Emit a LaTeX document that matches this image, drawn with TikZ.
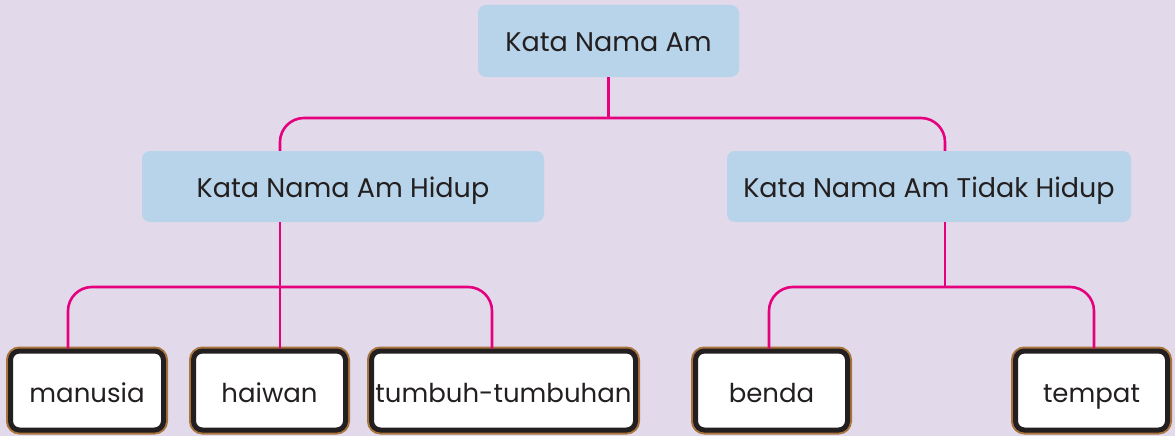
\documentclass[tikz,border=0pt]{standalone}
\usepackage{fontspec}
\setmainfont{Poppins}
\definecolor{bgcol}{HTML}{E2D9EB}
\definecolor{boxblue}{HTML}{B8D4EA}
\definecolor{linkpink}{HTML}{E5007E}
\definecolor{framegold}{HTML}{A8743C}
\definecolor{textgrey}{HTML}{231F20}
\tikzset{
  catbox/.style={fill=boxblue, rounded corners=8pt, inner sep=0pt,
    text=textgrey, font=\fontsize{27}{30}\selectfont,
    text height=21pt, text depth=0pt},
  leafbox/.style={fill=white, draw=textgrey, line width=5pt, rounded corners=9pt,
    inner sep=0pt, text=textgrey, font=\fontsize{26}{30}\selectfont,
    text height=24pt, text depth=0pt, minimum height=79pt,
    preaction={draw=framegold, line width=9pt}},
  link/.style={draw=linkpink, line width=2.6pt}
}
\begin{document}
\begin{tikzpicture}[x=1pt, y=-1pt]
  \fill[bgcol] (0,0) rectangle (1175,436);
  \useasboundingbox (0,0) rectangle (1175,436);
  % category boxes
  \node[catbox, minimum width=261pt, minimum height=72pt] (top) at (608.5,41) {Kata Nama Am};
  \node[catbox, minimum width=402pt, minimum height=71pt] (hidup) at (343,186.5) {Kata Nama Am Hidup};
  \node[catbox, minimum width=404pt, minimum height=71pt] (tidak) at (929,186.5) {Kata Nama Am Tidak Hidup};
  % leaf boxes
  \node[leafbox, minimum width=153pt] (manusia) at (87,390.5) {manusia};
  \node[leafbox, minimum width=152pt] (haiwan) at (269.5,390.5) {haiwan};
  \node[leafbox, minimum width=264pt] (tumbuh) at (503.5,390.5) {tumbuh-tumbuhan};
  \node[leafbox, minimum width=152pt] (benda) at (771.5,390.5) {benda};
  \node[leafbox, minimum width=152pt] (tempat) at (1091.5,390.5) {tempat};
  % connectors
  \coordinate (bar1) at (0,118);
  \coordinate (bar2) at (0,287);
  \draw[link] (top.south) -- (top.south |- bar1);
  \draw[link, rounded corners=24pt] ([xshift=-63pt]hidup.north) |- (top.south |- bar1) -| ([xshift=16pt]tidak.north);
  \draw[link] ([xshift=-63pt]hidup.south) -- ([xshift=-63pt]hidup.south |- haiwan.north);
  \draw[link, rounded corners=24pt] ([xshift=-19pt]manusia.north) |- ([xshift=-63pt]hidup.south |- bar2) -| ([xshift=-11.5pt]tumbuh.north);
  \draw[link] ([xshift=16pt]tidak.south) -- ([xshift=16pt]tidak.south |- bar2);
  \draw[link, rounded corners=24pt] ([xshift=-2.5pt]benda.north) |- ([xshift=16pt]tidak.south |- bar2) -| ([xshift=2.5pt]tempat.north);
\end{tikzpicture}
\end{document}
